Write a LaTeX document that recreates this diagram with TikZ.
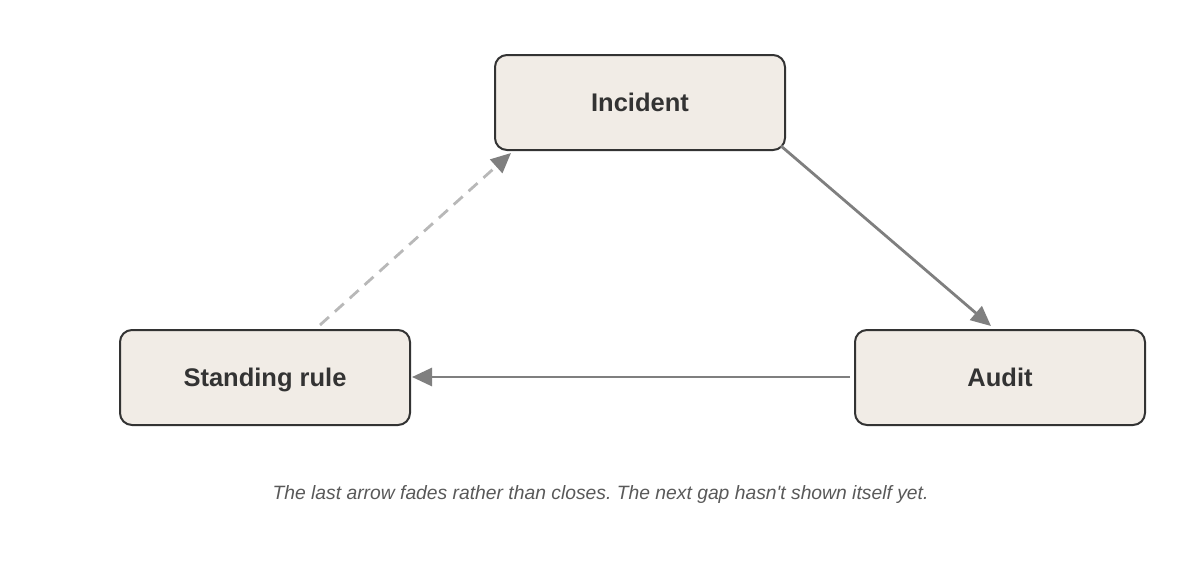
\documentclass[tikz,border=0pt]{standalone}
\usepackage{fontspec}
\setmainfont{Liberation Sans}
\usetikzlibrary{arrows.meta,calc}
\definecolor{boxfill}{HTML}{F1ECE6}
\definecolor{boxline}{HTML}{333333}
\definecolor{arrowgray}{HTML}{7F7F7F}
\definecolor{fadegray}{HTML}{B8B8B8}
\definecolor{captiongray}{HTML}{595959}
\frenchspacing
\begin{document}
\begin{tikzpicture}[x=1pt,y=-1pt,
  stagebox/.style={draw=boxline, line width=2pt, fill=boxfill, rounded corners=12pt,
    minimum width=290pt, minimum height=95pt, inner sep=0pt,
    text height=18.3pt, text depth=0pt,
    text=boxline, font=\fontsize{25.5pt}{28pt}\selectfont\bfseries},
  flow/.style={draw=arrowgray, line width=2.8pt,
    -{Triangle[length=20pt,width=18pt]}},
  fadeflow/.style={draw=fadegray, line width=2.8pt, dash pattern=on 12pt off 8pt,
    -{Triangle[length=20pt,width=18pt,color=arrowgray]}}]
\useasboundingbox (0,0) rectangle (1200,560);
\node[stagebox] (inc) at (640,102.5) {Incident};
\node[stagebox] (rule) at (265,377.5) {Standing rule};
\node[stagebox] (aud) at (1000,377.5) {Audit};
\coordinate (incout) at (781,146);
\coordinate (audin) at (991,326);
\coordinate (audout) at (850,377);
\coordinate (rulein) at (412,377);
\coordinate (ruleout) at (320,325);
\coordinate (incin) at (511,153);
\draw[flow] (incout) -- (audin);
\draw[flow] (audout) -- (rulein);
\draw[fadeflow] (ruleout) -- (incin);
\node[text=captiongray, font=\fontsize{19.3pt}{22pt}\selectfont\itshape] (cap) at (600.5,495)
  {The last arrow fades rather than closes. The next gap hasn\textquotesingle t shown itself yet.};
\end{tikzpicture}
\end{document}
